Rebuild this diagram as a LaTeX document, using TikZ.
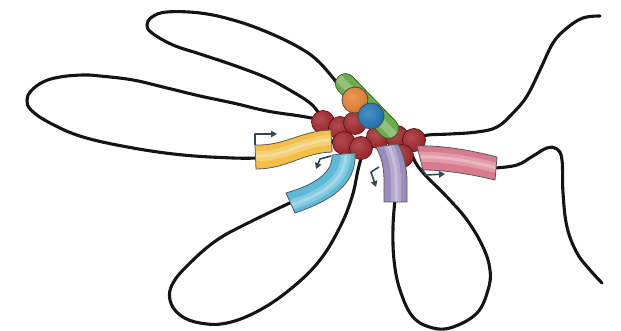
\documentclass[tikz,border=0pt]{standalone}
\usetikzlibrary{arrows.meta}
\definecolor{ballred}{HTML}{A0252A}
\definecolor{ballrim}{HTML}{5C1214}
\definecolor{genyellow}{HTML}{F4BF47}
\definecolor{gencyan}{HTML}{5CB9D7}
\definecolor{genpurple}{HTML}{9A8DBE}
\definecolor{genpink}{HTML}{D97B8E}
\definecolor{capgreen}{HTML}{6DAC4A}
\definecolor{caprim}{HTML}{3B6328}
\definecolor{knotorange}{HTML}{E8822F}
\definecolor{knotblue}{HTML}{2277B8}
\definecolor{arrowslate}{HTML}{2F4A55}
% a gene body: fill, a lighter band along its axis, and an outline
\newcommand{\genebody}[3]{%
  \fill[#1] #2;
  \begin{scope}
    \clip #2;
    \draw[line width=10pt, #1!55!white, opacity=.55] #3;
    \draw[line width=3pt, #1!30!white, opacity=.45] #3;
  \end{scope}
  \draw[blockedge] #2;}
% a shaded sphere, without its outline
\newcommand{\sphere}[4]{% #1 colour, #2 x, #3 y, #4 radius
  \begin{scope}
    \clip (#2,#3) circle (#4);
    \shade[inner color=#1!82!white, outer color=#1!92!black] (#2-3,#3-3) circle (#4+4);
  \end{scope}}
\begin{document}
\begin{tikzpicture}[x=1pt,y=-1pt,
  dna/.style={line width=3.1pt, line cap=round, line join=round, black!92},
  nucleo/.style={draw=ballrim, line width=0.7pt},
  knotrim/.style={draw=black!70, line width=0.8pt},
  tss/.style={draw=arrowslate, line width=1.6pt, line join=round,
    -{Triangle[length=6pt,width=6.5pt]}},
  blockedge/.style={draw=black!65, line width=0.8pt}]
\useasboundingbox (0,0) rectangle (621,331);

% chromatin loops
\draw[dna] plot[smooth, tension=0.65] coordinates {(341,88) (320,63) (300,48) (267,32)
  (233,20) (200,13) (167,12) (152,17) (147,25) (152,33) (173,45) (200,54) (233,65)
  (267,78) (293,92) (310,103) (318,112) (322,120)};
\draw[dna] plot[smooth, tension=0.65] coordinates {(322,120) (300,116) (267,111)
  (233,103) (200,96) (167,88) (133,80) (100,76) (83,75) (60,77) (43,82) (31,91)
  (27,100) (31,110) (50,123) (83,137) (133,148) (183,155) (233,158) (258,158)};
\draw[dna] plot[smooth, tension=0.65] coordinates {(418,138) (428,135) (450,134)
  (477,132) (497,127) (513,113) (527,96) (540,70) (553,43) (567,28) (583,18) (600,16)};
\draw[dna] plot[smooth, tension=0.65] coordinates {(495,168) (517,165) (533,156)
  (547,148) (557,149) (562,160) (563,193) (567,227) (577,253) (590,270) (602,283)};
\draw[dna] plot[smooth, tension=0.65] coordinates {(292,202) (250,222) (217,240)
  (190,263) (173,283) (170,300) (180,315) (200,323) (227,323) (260,310) (293,287)
  (320,260) (340,227) (352,197) (358,170) (362,155)};
\draw[dna] plot[smooth, tension=0.65] coordinates {(395,200) (393,227) (394,260)
  (400,290) (413,317) (433,328) (453,327) (477,313) (488,290) (490,270) (483,247)
  (467,220) (447,197) (427,177) (417,165) (412,155)};
\draw[dna] (331,141) -- (342,140);

% nucleosome cluster at the hub
\foreach \cx/\cy in {323/122, 340/128, 355/123, 378/137, 397/137, 414/140,
                     344/143, 361/148, 402/156} {
  \sphere{ballred}{\cx}{\cy}{11.5}
  \draw[nucleo] (\cx,\cy) circle (11.5);
}

% gene bodies
\genebody{genyellow}{(255,145) .. controls (285,146) and (300,131) .. (331,130)
  -- (332,152) .. controls (302,153) and (287,169) .. (256,169) -- cycle}
  {(255,156) .. controls (286,157) and (301,141) .. (332,140)}
\genebody{gencyan}{(332,155) .. controls (333,175) and (310,186) .. (286,193)
  -- (295,213) .. controls (330,201) and (357,185) .. (355,153) -- cycle}
  {(346,152) .. controls (347,180) and (322,195) .. (291,205)}
\genebody{genpurple}{(376,147) .. controls (382,158) and (384,168) .. (384,182)
  -- (384,202) -- (407,202) -- (407,182) .. controls (407,166) and (403,153) .. (398,144)
  -- cycle}
  {(388,144) .. controls (394,157) and (396,168) .. (396,182) -- (396,204)}
\genebody{genpink}{(417,146) .. controls (440,145) and (470,150) .. (497,157)
  -- (495,180) .. controls (470,174) and (445,170) .. (423,170) -- cycle}
  {(419,157) .. controls (442,156) and (470,161) .. (497,168)}

% transcription start sites
\draw[tss] (255,145) -- (255,134) -- (277,134);
\draw[tss] (331,156) -- (320,159) -- (316,169);
\draw[tss] (379,167) -- (371,172) -- (376,187);
\draw[tss] (421,168) -- (426,175) -- (445,174);

% architectural complex: green ring with orange and blue subunits
\begin{scope}[shift={(367,106)}, rotate=-46]
  \fill[capgreen, rounded corners=9.8pt] (-41,-10) rectangle (41,10);
  \begin{scope}
    \clip[rounded corners=9.8pt] (-41,-10) rectangle (41,10);
    \draw[line width=8pt, capgreen!55!white, opacity=.6] (-44,1) -- (44,1);
  \end{scope}
  \draw[caprim, line width=0.8pt, rounded corners=9.8pt] (-41,-10) rectangle (41,10);
\end{scope}
\sphere{knotorange}{355}{100}{13}
\draw[knotrim] (355,100) circle (13);
\sphere{knotblue}{371}{116}{13}
\draw[knotrim] (371,116) circle (13);
\end{tikzpicture}
\end{document}
